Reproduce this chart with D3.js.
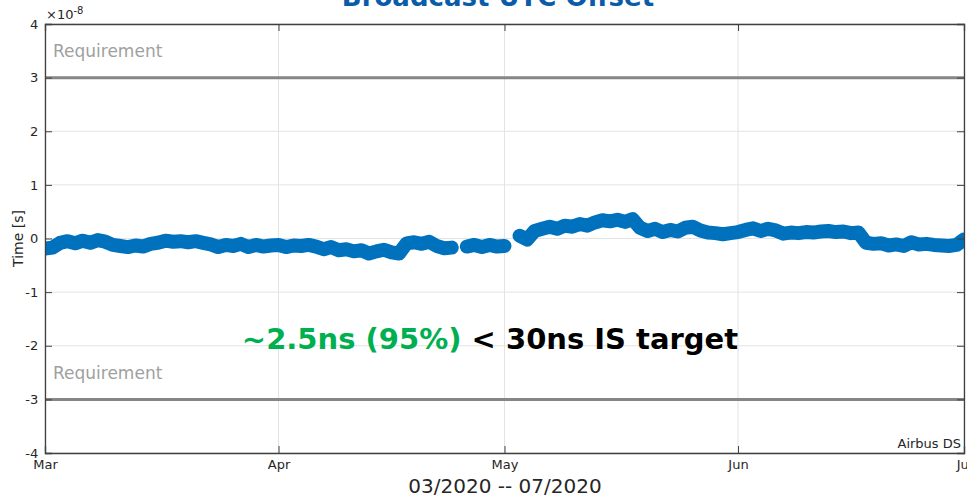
<!DOCTYPE html>
<html>
<head>
<meta charset="utf-8">
<script src="https://cdn.jsdelivr.net/npm/d3@7"></script>
<style>
body { margin: 0; background: #fff; }
text { font-family: "DejaVu Sans", sans-serif; }
</style>
</head>
<body>
<script>
var width = 967, height = 498;
var margin = { top: 24, right: 3, bottom: 45, left: 45 };

// offset in units of 1e-8 s, one value per day from 2020-03-01 (null = no data)
var startDate = new Date(2020, 2, 1);
var offsets = [
  -0.19, -0.17, -0.08, -0.05, -0.09, -0.04, -0.08, -0.03, -0.06, -0.12,
  -0.14, -0.16, -0.13, -0.15, -0.10, -0.08, -0.04, -0.06, -0.05, -0.07,
  -0.05, -0.08, -0.11, -0.16, -0.12, -0.14, -0.10, -0.16, -0.12, -0.15,
  -0.13,
  -0.12, -0.16, -0.13, -0.14, -0.12, -0.15, -0.20, -0.16, -0.22, -0.20,
  -0.24, -0.22, -0.28, -0.24, -0.21, -0.26, -0.28, -0.09, -0.07, -0.10,
  -0.06, -0.14, -0.18, -0.17, null, -0.15, -0.12, -0.16, -0.12, -0.15,
  -0.14, null, 0.05, -0.02, 0.14, 0.18, 0.22, 0.18, 0.24, 0.22,
  0.27, 0.24, 0.30, 0.34, 0.32, 0.35, 0.31, 0.36, 0.20, 0.14,
  0.18, 0.12, 0.16, 0.13, 0.20, 0.22, 0.15, 0.11, 0.10, 0.08,
  0.10,
  0.12, 0.16, 0.19, 0.14, 0.18, 0.15, 0.09, 0.11, 0.10, 0.12,
  0.11, 0.13, 0.14, 0.12, 0.13, 0.10, 0.11, -0.08, -0.10, -0.09,
  -0.13, -0.11, -0.14, -0.07, -0.11, -0.10, -0.12, -0.13, -0.14, -0.12,
  -0.02
];
var yTicks = [-4, -3, -2, -1, 0, 1, 2, 3, 4];
var monthTicks = [new Date(2020, 2, 1), new Date(2020, 3, 1), new Date(2020, 4, 1), new Date(2020, 5, 1), new Date(2020, 6, 1)];
var monthLabels = ["Mar", "Apr", "May", "Jun", "Jul"];
var requirement = [3, -3];

var data = offsets.map(function(v, i) {
  return { date: d3.timeDay.offset(startDate, i), value: v };
});

var svg = d3.select("body").append("svg")
  .attr("width", width)
  .attr("height", height);

var x = d3.scaleTime()
  .domain([monthTicks[0], monthTicks[monthTicks.length - 1]])
  .range([margin.left, width - margin.right]);
var y = d3.scaleLinear()
  .domain([-4, 4])
  .range([height - margin.bottom, margin.top]);

var x0 = x.range()[0], x1 = x.range()[1];
var y0 = y.range()[0], y1 = y.range()[1];

// grid
svg.append("g").selectAll("line").data(monthTicks).join("line")
  .attr("x1", d => x(d)).attr("x2", d => x(d))
  .attr("y1", y1).attr("y2", y0)
  .attr("stroke", "#e3e3e3");
svg.append("g").selectAll("line").data(yTicks).join("line")
  .attr("x1", x0).attr("x2", x1)
  .attr("y1", d => y(d)).attr("y2", d => y(d))
  .attr("stroke", "#e3e3e3");

// requirement lines
svg.append("g").selectAll("line").data(requirement).join("line")
  .attr("x1", x0).attr("x2", x1)
  .attr("y1", d => y(d)).attr("y2", d => y(d))
  .attr("stroke", "#868686")
  .attr("stroke-width", 3);
svg.append("g").selectAll("text").data(requirement).join("text")
  .attr("x", x0 + 8)
  .attr("y", d => y(d + 0.5) + 6)
  .attr("fill", "#a0a0a0")
  .style("font-size", "17px")
  .text("Requirement");

// data band
svg.append("clipPath").attr("id", "clip")
  .append("rect").attr("x", x0).attr("y", y1).attr("width", x1 - x0).attr("height", y0 - y1);

var line = d3.line()
  .defined(d => d.value !== null)
  .x(d => x(d.date))
  .y(d => y(d.value));

svg.append("path")
  .datum(data)
  .attr("clip-path", "url(#clip)")
  .attr("fill", "none")
  .attr("stroke", "#0072bd")
  .attr("stroke-width", 14)
  .attr("stroke-linejoin", "round")
  .attr("stroke-linecap", "round")
  .attr("d", line);

// axes
var axisColor = "#404040";
var xAxis = d3.axisBottom(x).tickValues(monthTicks).tickSize(-7).tickPadding(9)
  .tickFormat((d, i) => monthLabels[i]);
var gx = svg.append("g").attr("transform", "translate(0," + y0 + ")").call(xAxis);
var xTop = d3.axisTop(x).tickValues(monthTicks).tickSize(-7).tickFormat("");
var gxt = svg.append("g").attr("transform", "translate(0," + y1 + ")").call(xTop);
var yAxis = d3.axisLeft(y).tickValues(yTicks).tickSize(-7).tickPadding(10)
  .tickFormat(d => String(d));
var gy = svg.append("g").attr("transform", "translate(" + x0 + ",0)").call(yAxis);
var yRight = d3.axisRight(y).tickValues(yTicks).tickSize(-7).tickFormat("");
var gyr = svg.append("g").attr("transform", "translate(" + x1 + ",0)").call(yRight);

[gx, gxt, gy, gyr].forEach(function(g) {
  g.selectAll("path, line").attr("stroke", axisColor);
  g.select(".domain").attr("stroke-width", 1.3);
  g.selectAll("text").attr("fill", "#262626").style("font-family", "DejaVu Sans").style("font-size", "13px");
});
gx.selectAll("text").attr("dy", "0.5em");
gy.selectAll("text").attr("dx", "0.25em");

svg.append("text")
  .attr("x", x0 + 1).attr("y", 19)
  .attr("fill", "#262626")
  .style("font-size", "13px")
  .html('×10<tspan dy="-5" style="font-size:10px">-8</tspan>');

svg.append("text")
  .attr("transform", "translate(23," + y(0) + ") rotate(-90)")
  .attr("text-anchor", "middle")
  .attr("fill", "#262626")
  .style("font-size", "14px")
  .text("Time [s]");

svg.append("text")
  .attr("x", 505).attr("y", 493)
  .attr("text-anchor", "middle")
  .attr("fill", "#262626")
  .style("font-size", "20px")
  .text("03/2020 -- 07/2020");

svg.append("text")
  .attr("x", x1 - 3).attr("y", y0 - 5)
  .attr("text-anchor", "end")
  .attr("fill", "#262626")
  .style("font-size", "13px")
  .text("Airbus DS");

// title (cut off at top)
svg.append("text")
  .attr("x", 498).attr("y", 6)
  .attr("text-anchor", "middle")
  .attr("fill", "#0b5ca8")
  .style("font-size", "26px")
  .style("font-weight", "bold")
  .text("Broadcast UTC Offset");

// annotation
var ann = svg.append("text")
  .attr("x", 490).attr("y", 349)
  .attr("text-anchor", "middle")
  .style("font-size", "29px")
  .style("font-weight", "bold");
ann.append("tspan").attr("fill", "#00b050").text("~2.5ns (95%)");
ann.append("tspan").attr("fill", "#000").text(" < 30ns IS target");
</script>
</body>
</html>
